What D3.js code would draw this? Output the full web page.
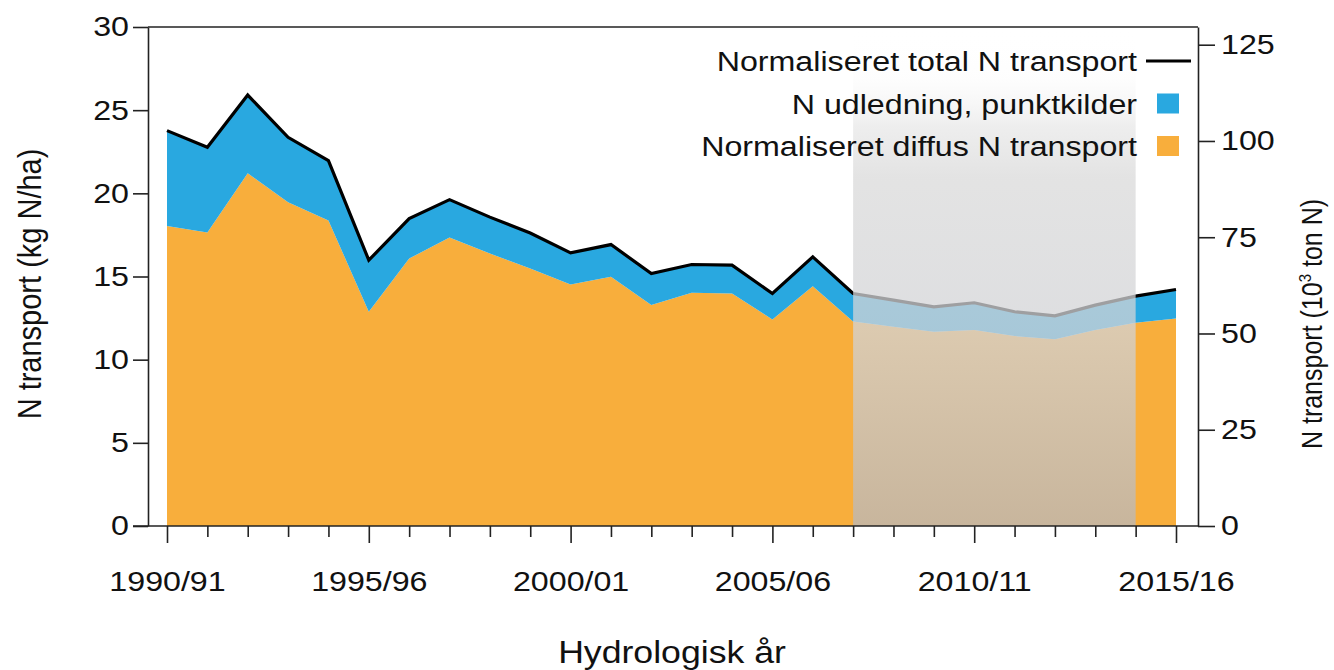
<!DOCTYPE html>
<html>
<head>
<meta charset="utf-8">
<script src="https://cdn.jsdelivr.net/npm/d3@7"></script>
<style>
  body { margin: 0; background: #fff; }
  svg text { font-family: "Liberation Sans", Arial, sans-serif; fill: #111; }
</style>
</head>
<body>
<svg id="chart" width="1334" height="670"></svg>
<script>
// Hydrological years (x categories)
var years = ["1990/91", "1991/92", "1992/93", "1993/94", "1994/95", "1995/96", "1996/97",
  "1997/98", "1998/99", "1999/00", "2000/01", "2001/02", "2002/03", "2003/04", "2004/05",
  "2005/06", "2006/07", "2007/08", "2008/09", "2009/10", "2010/11", "2011/12", "2012/13",
  "2013/14", "2014/15", "2015/16"];
var labelYears = ["1990/91", "1995/96", "2000/01", "2005/06", "2010/11", "2015/16"];

// kg N/ha
var diffus = [18.03, 17.64, 21.21, 19.47, 18.37, 12.88, 16.08, 17.34, 16.38, 15.48, 14.52,
  14.98, 13.28, 14.02, 13.98, 12.42, 14.42, 12.30, 11.98, 11.68, 11.78, 11.42, 11.22,
  11.78, 12.22, 12.48];
var punkt = [5.74, 5.13, 4.70, 3.90, 3.60, 3.10, 2.40, 2.28, 2.19, 2.13, 1.90, 1.94, 1.90,
  1.70, 1.70, 1.56, 1.76, 1.68, 1.60, 1.50, 1.64, 1.46, 1.42, 1.50, 1.60, 1.74];

var leftTicks = [0, 5, 10, 15, 20, 25, 30];
var rightTicks = [0, 25, 50, 75, 100, 125];
var shadeFrom = "2007/08", shadeTo = "2014/15";

var legendItems = [
  { label: "Normaliseret total N transport", kind: "line" },
  { label: "N udledning, punktkilder", kind: "box", key: "punkt" },
  { label: "Normaliseret diffus N transport", kind: "box", key: "diffus" }
];

(function() {
  var colors = { diffus: "#f8ae3c", punkt: "#29a8e0" };
  var SX = 1.15; // the source picture is stretched a bit sideways

  var svg = d3.select("#chart");
  var plotLeft = 148, plotRight = 1198, plotTop = 27, plotBottom = 526;

  var x = d3.scalePoint().domain(years).range([167, 1176]);
  var y = d3.scaleLinear().domain([0, 30]).range([plotBottom, plotTop]);
  var yR = d3.scaleLinear().domain([0, 129.6]).range([plotBottom, plotTop]);

  var rows = years.map(function(yr, i) { return { yr: yr, diffus: diffus[i], punkt: punkt[i] }; });
  var series = d3.stack().keys(["diffus", "punkt"])(rows);

  var area = d3.area()
    .x(function(d) { return x(d.data.yr); })
    .y0(function(d) { return y(d[0]); })
    .y1(function(d) { return y(d[1]); });

  svg.selectAll("path.layer")
    .data(series)
    .enter().append("path")
    .attr("class", "layer")
    .attr("fill", function(s) { return colors[s.key]; })
    .attr("d", area);

  var line = d3.line()
    .x(function(d) { return x(d.data.yr); })
    .y(function(d) { return y(d[1]); });

  svg.append("path")
    .datum(series[1])
    .attr("fill", "none")
    .attr("stroke", "#000")
    .attr("stroke-width", 3.2)
    .attr("d", line);

  // grey fade over the projected period
  var grad = svg.append("defs").append("linearGradient").attr("id", "shade")
    .attr("x1", 0).attr("y1", 0).attr("x2", 0).attr("y2", 1);
  [[0, "#ffffff", 0], [0.1, "#f0f0f0", 0.1], [0.2, "#e2e2e2", 0.6], [0.3, "#dadada", 0.75],
   [0.61, "#d2d3d6", 0.75], [1, "#b8b8bd", 0.75]].forEach(function(s) {
    grad.append("stop").attr("offset", s[0]).attr("stop-color", s[1]).attr("stop-opacity", s[2]);
  });
  svg.append("rect")
    .attr("x", x(shadeFrom))
    .attr("y", plotTop)
    .attr("width", x(shadeTo) - x(shadeFrom))
    .attr("height", plotBottom - plotTop)
    .attr("fill", "url(#shade)");

  // axes and frame
  var axisColor = "#222";
  function styleAxis(g) {
    g.selectAll("path, line").attr("stroke", axisColor).attr("stroke-width", 1.6);
    g.selectAll("text").attr("font-size", 28).attr("fill", "#111")
      .attr("font-family", "Liberation Sans, Arial, sans-serif");
  }

  var gl = svg.append("g").attr("transform", "translate(" + plotLeft + ",0)")
    .call(d3.axisLeft(y).tickValues(leftTicks).tickSize(15).tickSizeOuter(0).tickPadding(4))
    .call(styleAxis);
  gl.selectAll(".tick text").attr("x", -19 / SX).attr("transform", "scale(" + SX + ",1)");

  var gr = svg.append("g").attr("transform", "translate(" + plotRight + ",0)")
    .call(d3.axisRight(yR).tickValues(rightTicks).tickSize(17).tickSizeOuter(0).tickPadding(5))
    .call(styleAxis);
  gr.selectAll(".tick text").attr("x", 23 / SX).attr("transform", "scale(" + SX + ",1)");

  var gb = svg.append("g").attr("transform", "translate(0," + plotBottom + ")")
    .call(d3.axisBottom(x).tickValues(years)
      .tickFormat(function(d) { return labelYears.indexOf(d) >= 0 ? d : ""; })
      .tickSizeOuter(0))
    .call(styleAxis);
  gb.select(".domain").remove();
  gb.selectAll(".tick line").attr("y2", function(d) { return labelYears.indexOf(d) >= 0 ? 17 : 11; });
  gb.selectAll(".tick text").attr("y", 65).attr("dy", 0).attr("transform", "scale(" + SX + ",1)");

  svg.append("line").attr("x1", plotLeft - 15).attr("x2", plotRight)
    .attr("y1", plotBottom).attr("y2", plotBottom)
    .attr("stroke", axisColor).attr("stroke-width", 1.6);
  svg.append("line").attr("x1", plotLeft).attr("x2", plotRight)
    .attr("y1", plotTop).attr("y2", plotTop)
    .attr("stroke", axisColor).attr("stroke-width", 1.6);

  // axis titles
  svg.append("text")
    .attr("transform", "translate(41,284) scale(" + SX + ",1) rotate(-90)")
    .attr("text-anchor", "middle")
    .attr("font-size", 29)
    .text("N transport (kg N/ha)");

  var rt = svg.append("text")
    .attr("transform", "translate(1322,324) scale(" + SX + ",1) rotate(-90)")
    .attr("text-anchor", "middle")
    .attr("font-size", 25);
  rt.append("tspan").text("N transport (10");
  rt.append("tspan").attr("font-size", 15).attr("dy", -10).text("3");
  rt.append("tspan").attr("dy", 10).text(" ton N)");

  svg.append("text")
    .attr("transform", "translate(672,663) scale(" + SX + ",1)")
    .attr("text-anchor", "middle")
    .attr("font-size", 31)
    .text("Hydrologisk år");

  // legend
  var lg = svg.append("g");
  legendItems.forEach(function(it, i) {
    var cy = 61 + i * 42.5;
    lg.append("text")
      .attr("transform", "translate(1137," + (cy + 10) + ") scale(" + SX + ",1)")
      .attr("text-anchor", "end")
      .attr("font-size", 28)
      .text(it.label);
    if (it.kind === "line") {
      lg.append("line").attr("x1", 1146).attr("x2", 1191).attr("y1", cy).attr("y2", cy)
        .attr("stroke", "#000").attr("stroke-width", 3.2);
    } else {
      lg.append("rect").attr("x", 1157).attr("y", cy - 10).attr("width", 22).attr("height", 20)
        .attr("fill", colors[it.key]);
    }
  });
})();
</script>
</body>
</html>
